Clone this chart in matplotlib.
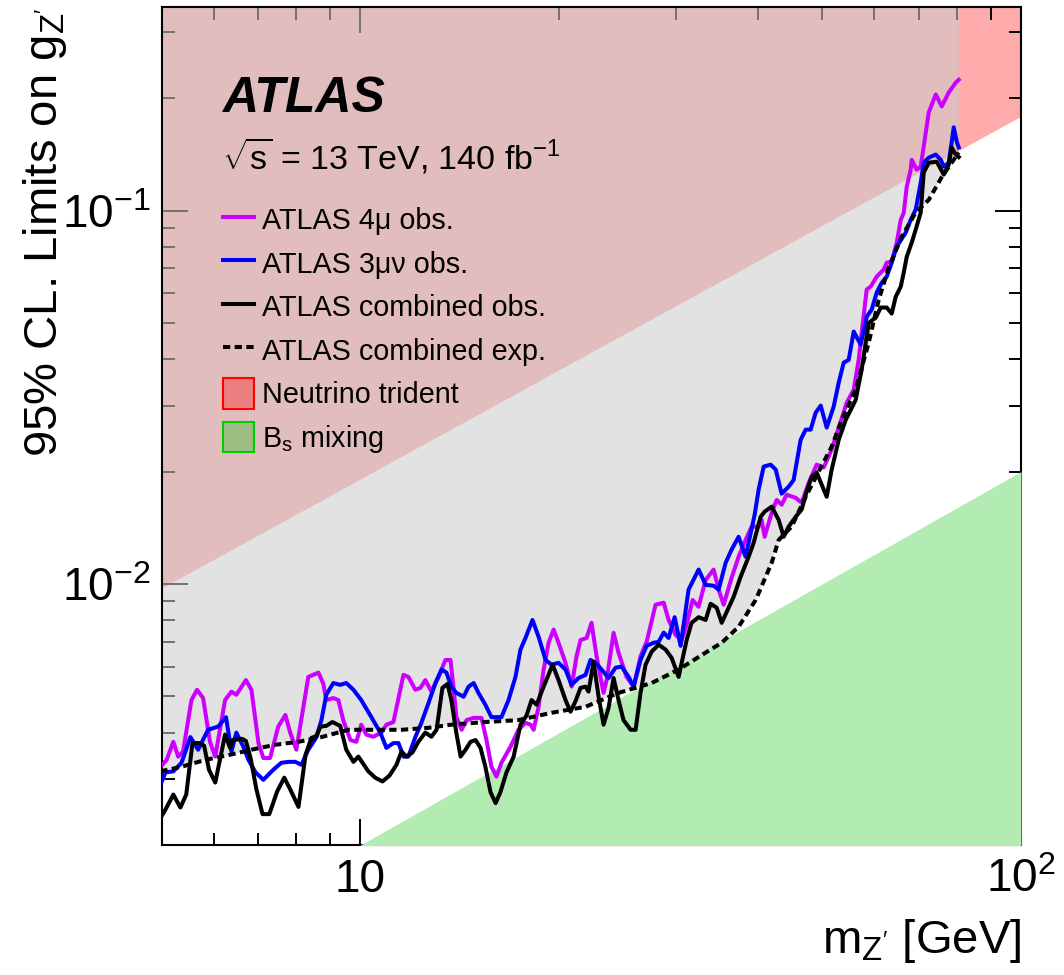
import matplotlib
matplotlib.use("Agg")
import matplotlib.pyplot as plt
from matplotlib.lines import Line2D
from matplotlib.patches import Patch
from matplotlib.ticker import LogLocator, NullFormatter

plt.rcParams["font.family"] = ["Liberation Sans", "DejaVu Sans"]
plt.rcParams["mathtext.fontset"] = "custom"
plt.rcParams["mathtext.rm"] = "Liberation Sans"
plt.rcParams["mathtext.it"] = "Liberation Sans:italic"
plt.rcParams["mathtext.bf"] = "Liberation Sans:bold"
plt.rcParams["mathtext.default"] = "regular"

# ATLAS 4mu observed limit
m_4mu = [4.98, 5.09, 5.21, 5.30, 5.39, 5.55, 5.66, 5.78, 5.92, 6.03, 6.24, 6.38, 6.49, 6.71,
         6.84, 7.01, 7.13, 7.30, 7.51, 7.70, 7.83, 8.00, 8.20, 8.34, 8.64, 8.79, 8.88, 9.10,
         9.26, 9.42, 9.66, 9.86, 10.03, 10.21, 10.46, 10.76, 10.95, 11.22, 11.42, 11.62,
         11.82, 12.11, 12.33, 12.54, 12.81, 13.13, 13.45, 13.69, 13.83, 13.97, 14.23, 14.48,
         14.84, 15.25, 15.52, 15.79, 16.07, 16.35, 16.88, 17.35, 17.78, 18.10, 18.29, 18.61,
         18.94, 19.27, 19.61, 19.95, 20.44, 20.88, 21.24, 21.54, 22.0, 22.38, 22.78, 23.34,
         23.59, 24.17, 24.59, 25.29, 25.92, 26.55, 27.12, 27.98, 28.78, 29.28, 30.0, 30.64,
         31.18, 31.83, 32.51, 33.31, 34.25, 34.86, 35.47, 36.47, 37.37, 38.29, 39.11, 40.07,
         40.49, 40.92, 41.94, 42.67, 43.42, 44.19, 45.59, 46.55, 47.71, 49.06, 50.27, 51.69,
         52.97, 54.47, 55.82, 56.79, 57.39, 58.40, 59.22, 60.47, 61.97, 62.62, 63.72, 64.84,
         65.76, 66.45, 67.15, 68.08, 68.32, 69.52, 70.5, 71.24, 72.50, 74.29, 75.86, 77.73,
         79.65, 80.49]
g_4mu = [0.00324, 0.00338, 0.00378, 0.00345, 0.00356, 0.00489, 0.00521, 0.00495, 0.00378,
         0.00345, 0.00489, 0.00515, 0.00505, 0.00553, 0.00521, 0.00375, 0.00342, 0.00342,
         0.00415, 0.00446, 0.0040, 0.0036, 0.00469, 0.00564, 0.00579, 0.0054, 0.00489,
         0.00495, 0.00489, 0.00432, 0.00382, 0.00378, 0.0042, 0.00395, 0.0039, 0.0040,
         0.0042, 0.00427, 0.00495, 0.00571, 0.00564, 0.00521, 0.00527, 0.00553, 0.00515,
         0.00564, 0.00626, 0.00626, 0.00531, 0.00441, 0.00407, 0.00432, 0.00438, 0.00438,
         0.00382, 0.00324, 0.00305, 0.00332, 0.00367, 0.00407, 0.00425, 0.0042, 0.00407,
         0.00469, 0.0059, 0.00696, 0.00755, 0.00696, 0.00615, 0.00531, 0.0064, 0.00708,
         0.00717, 0.00787, 0.0064, 0.00511, 0.00553, 0.0074, 0.00655, 0.00564, 0.00531,
         0.0064, 0.0070, 0.0088, 0.00891, 0.00801, 0.0073, 0.00708, 0.00778, 0.00906,
         0.00869, 0.01025, 0.01093, 0.00966, 0.0088, 0.01039, 0.01183, 0.01312, 0.01424,
         0.01424, 0.01484, 0.01338, 0.01552, 0.01679, 0.0163, 0.01734, 0.01701, 0.0165,
         0.01866, 0.02087, 0.0205, 0.0229, 0.0262, 0.03057, 0.03315, 0.03982, 0.04711,
         0.06143, 0.06257, 0.0665, 0.0695, 0.0725, 0.0729, 0.082, 0.0944, 0.0987, 0.1159,
         0.1287, 0.1367, 0.1287, 0.1311, 0.1484, 0.183, 0.2045, 0.190, 0.2071, 0.220, 0.2239]

# ATLAS 3mu nu observed limit
m_3munu = [4.98, 5.07, 5.21, 5.36, 5.53, 5.68, 5.88, 6.09, 6.26, 6.38, 6.49, 6.65, 6.77, 6.94,
           7.13, 7.38, 7.59, 7.78, 7.97, 8.14, 8.34, 8.58, 8.73, 8.88, 9.10, 9.32, 9.52, 9.76,
           10.03, 10.39, 10.72, 10.95, 11.22, 11.42, 11.62, 11.82, 12.11, 12.37, 12.68, 12.99,
           13.27, 13.50, 13.73, 13.97, 14.33, 14.58, 14.84, 15.09, 15.46, 15.79, 16.35, 16.76,
           17.17, 17.47, 17.78, 18.22, 18.61, 19.07, 19.47, 19.95, 20.44, 20.88, 21.39, 21.92,
           22.3, 22.70, 23.18, 23.75, 24.34, 24.85, 25.47, 25.92, 26.55, 27.12, 27.79, 28.28,
           28.78, 29.28, 29.90, 30.53, 31.39, 32.51, 33.31, 34.25, 34.86, 35.72, 36.47, 37.37,
           38.29, 39.52, 40.07, 40.78, 41.79, 42.53, 43.42, 44.49, 45.27, 46.39, 47.21, 48.04,
           48.89, 49.75, 50.80, 52.05, 52.97, 53.90, 54.85, 55.82, 57.19, 58.40, 59.43, 60.47,
           61.54, 62.62, 63.72, 64.84, 66.91, 68.08, 69.28, 70.50, 71.24, 72.50, 74.29, 75.6,
           76.39, 77.73, 79.10, 79.93, 80.49]
g_3munu = [0.0029, 0.00313, 0.00315, 0.00332, 0.00389, 0.0036, 0.00407, 0.00415, 0.0044,
           0.00356, 0.0040, 0.00367, 0.00338, 0.00313, 0.00299, 0.00318, 0.00332, 0.00334,
           0.00334, 0.00328, 0.0036, 0.00389, 0.00432, 0.00505, 0.00543, 0.00537, 0.00543,
           0.00521, 0.00489, 0.0044, 0.0040, 0.00364, 0.00375, 0.00375, 0.00345, 0.00345,
           0.00389, 0.00425, 0.0048, 0.00543, 0.0059, 0.00579, 0.00531, 0.00511, 0.00499,
           0.00531, 0.00543, 0.00511, 0.00475, 0.0044, 0.0044, 0.00489, 0.00564, 0.00667,
           0.00717, 0.00801, 0.00722, 0.00626, 0.00608, 0.00615, 0.0059, 0.00537, 0.0056,
           0.00571, 0.00626, 0.00615, 0.0059, 0.0056, 0.00597, 0.00601, 0.00564, 0.00531,
           0.00626, 0.00683, 0.00696, 0.0070, 0.00741, 0.00717, 0.00815, 0.00683, 0.00966,
           0.01093, 0.00995, 0.00989, 0.00966, 0.0114, 0.01236, 0.01338, 0.01183, 0.01533,
           0.01789, 0.02062, 0.02087, 0.02024, 0.01745, 0.01822, 0.01899, 0.02431, 0.0259,
           0.0259, 0.02877, 0.03003, 0.02622, 0.02985, 0.03458, 0.03913, 0.03982, 0.04741,
           0.04374, 0.05196, 0.0543, 0.06029, 0.06408, 0.0665, 0.0725, 0.08007, 0.08728,
           0.0944, 0.1006, 0.1187, 0.1343, 0.1385, 0.1412, 0.1367, 0.1311, 0.1343, 0.167,
           0.1529, 0.1475]

# ATLAS combined observed limit
m_comb = [4.98, 5.07, 5.21, 5.34, 5.45, 5.57, 5.70, 5.80, 5.90, 6.03, 6.24, 6.35, 6.40, 6.62,
          6.71, 6.82, 6.96, 7.11, 7.28, 7.48, 7.67, 7.83, 8.06, 8.26, 8.43, 8.58, 8.70, 8.88,
          9.07, 9.32, 9.52, 9.76, 9.93, 10.28, 10.53, 10.80, 11.07, 11.34, 11.54, 11.74, 11.99,
          12.24, 12.54, 12.81, 13.04, 13.31, 13.55, 13.73, 13.97, 14.18, 14.43, 14.68, 14.94,
          15.20, 15.46, 15.74, 16.02, 16.29, 16.64, 17.06, 17.47, 17.84, 18.16, 18.48, 18.94,
          19.54, 19.95, 20.44, 20.80, 21.17, 21.54, 21.92, 22.15, 22.54, 22.94, 23.34, 23.75,
          24.17, 24.59, 25.02, 25.65, 26.10, 26.55, 27.02, 27.60, 28.28, 28.98, 29.59, 30.32,
          31.18, 31.72, 32.51, 33.31, 33.90, 34.62, 35.23, 36.73, 37.63, 38.70, 39.38, 40.35,
          40.92, 41.94, 42.97, 43.73, 44.49, 45.59, 46.55, 47.37, 48.21, 49.06, 50.80, 51.69,
          52.97, 54.28, 56.20, 57.39, 58.81, 60.26, 61.33, 62.62, 63.72, 64.62, 65.76, 66.45,
          67.15, 68.32, 69.28, 70.50, 71.24, 72.50, 74.55, 76.39, 77.73, 78.55, 79.65, 80.49]
g_comb = [0.00236, 0.00249, 0.00273, 0.00252, 0.00273, 0.00375, 0.00375, 0.00369, 0.00318,
          0.00294, 0.00395, 0.00364, 0.00382, 0.00385, 0.0038, 0.00342, 0.00282, 0.00242,
          0.00242, 0.00278, 0.00303, 0.00282, 0.00253, 0.00349, 0.00387, 0.00392, 0.00415,
          0.00417, 0.00427, 0.00417, 0.0036, 0.00334, 0.00345, 0.00315, 0.00303, 0.00296,
          0.00307, 0.00328, 0.00356, 0.00345, 0.00354, 0.00378, 0.0040, 0.0039, 0.00407,
          0.00527, 0.0054, 0.00489, 0.0040, 0.00345, 0.0036, 0.00378, 0.00382, 0.00364,
          0.00324, 0.00277, 0.00259, 0.00277, 0.00313, 0.00345, 0.0042, 0.00444, 0.00489,
          0.00475, 0.00531, 0.00608, 0.00553, 0.00489, 0.00455, 0.00486, 0.00527, 0.00531,
          0.00515, 0.00619, 0.00499, 0.0042, 0.00466, 0.0056, 0.00489, 0.00432, 0.00407,
          0.00407, 0.00511, 0.00608, 0.00659, 0.00688, 0.00667, 0.00634, 0.00564, 0.00708,
          0.00787, 0.00815, 0.00801, 0.00885, 0.00864, 0.00787, 0.00924, 0.01045, 0.01183,
          0.01289, 0.01513, 0.01562, 0.01611, 0.01484, 0.01338, 0.01424, 0.01513, 0.01582,
          0.01767, 0.01937, 0.01987, 0.01712, 0.02024, 0.02431, 0.0275, 0.03111, 0.03751,
          0.0500, 0.05163, 0.05498, 0.05498, 0.05298, 0.05878, 0.06257, 0.06822, 0.07523,
          0.08201, 0.08894, 0.09877, 0.1263, 0.1343, 0.1351, 0.1248, 0.1327, 0.1475, 0.1412,
          0.139]

# ATLAS combined expected limit
m_exp = [4.98, 5.36, 5.82, 6.31, 6.84, 7.43, 8.06, 8.73, 9.59, 10.53, 11.54, 12.68, 13.73,
         15.46, 17.35, 19.47, 21.92, 24.59, 27.60, 30.32, 33.31, 35.23, 37.37, 39.66, 41.94,
         42.97, 44.96, 47.21, 49.40, 51.69, 53.53, 56.20, 58.81, 60.90, 63.06, 65.99, 69.28,
         72.50, 75.86, 80.49]
g_exp = [0.00315, 0.00324, 0.00338, 0.00348, 0.0036, 0.00371, 0.00378, 0.00389, 0.00407,
         0.00407, 0.00407, 0.00412, 0.0042, 0.00427, 0.00432, 0.00452, 0.00469, 0.00511,
         0.00543, 0.0059, 0.00655, 0.00696, 0.00768, 0.00906, 0.0114, 0.01312, 0.01424,
         0.01712, 0.01999, 0.02332, 0.0275, 0.03315, 0.04426, 0.05764, 0.07039, 0.08514,
         0.09877, 0.1068, 0.1229, 0.1430]

# excluded regions
trident_m = [5.0, 100.0]
trident_g = [0.0097, 0.178]
bs_m = [10.0, 100.0]
bs_g = [0.002, 0.02]

fig = plt.figure(figsize=(10.64, 9.75), dpi=100)
ax = fig.add_axes([0.1518, 0.1333, 0.8078, 0.8592])
ax.set_xscale("log")
ax.set_yscale("log")

ax.fill_between(trident_m, trident_g, 10, color=(1, 0, 0), alpha=0.33, lw=0, zorder=1)
ax.fill_between(m_exp, g_exp, 10, color=(0.8, 0.8, 0.8), alpha=0.56, lw=0, zorder=2)
ax.fill_between(bs_m, 1e-4, bs_g, color="#b2ecb2", lw=0, zorder=3)

lw = 2.9
dots = (0, (1.8, 1.1))
ax.plot(m_4mu, g_4mu, color="#cc00ff", lw=lw, zorder=5)
ax.plot(m_3munu, g_3munu, color="#0000ff", lw=lw, zorder=6)
ax.plot(m_exp, g_exp, color="black", lw=lw, ls=dots, zorder=7)
ax.plot(m_comb, g_comb, color="black", lw=lw, zorder=8)

ax.set_xlim(5, 100)
ax.set_ylim(0.002, 0.35)

ax.set_xticks([10, 100], ["10", "$10^{2}$"])
ax.xaxis.set_minor_locator(LogLocator(base=10, subs=range(2, 10)))
ax.xaxis.set_minor_formatter(NullFormatter())
ax.set_yticks([0.01, 0.1], ["$10^{-2}$", "$10^{-1}$"])
ax.yaxis.set_minor_locator(LogLocator(base=10, subs=range(2, 10)))
ax.yaxis.set_minor_formatter(NullFormatter())

ax.tick_params(which="both", direction="in", top=True, right=True, width=1.4)
ax.tick_params(which="major", length=18.5, labelsize=33)
ax.tick_params(which="minor", length=9)
ax.tick_params(axis="x", pad=34)
ax.tick_params(axis="y", pad=8)
for lab in ax.get_xticklabels():
    lab.set_va("baseline")
for sp in ax.spines.values():
    sp.set_linewidth(1.5)

ax.set_xlabel("m$_{Z'}$ [GeV]", fontsize=34, loc="right")
ax.xaxis.set_label_coords(1.0, -0.086)
ax.set_ylabel("95% CL. Limits on g$_{Z'}$", fontsize=34, loc="top")
ax.yaxis.set_label_coords(-0.108, 1.0)

ax.text(0.0705, 0.875, "ATLAS", transform=ax.transAxes, fontsize=36,
        fontweight="bold", fontstyle="italic", va="baseline")
ax.text(0.0705, 0.806, r"$\sqrt{s}$ = 13 TeV, 140 fb$^{-1}$", transform=ax.transAxes,
        fontsize=24.5, va="baseline")

handles = [
    Line2D([], [], color="#cc00ff", lw=lw),
    Line2D([], [], color="#0000ff", lw=lw),
    Line2D([], [], color="black", lw=lw),
    Line2D([], [], color="black", lw=lw, ls=dots),
    Patch(facecolor=(1, 0, 0, 0.33), edgecolor="red", lw=1.5),
    Patch(facecolor=(0, 0.75, 0, 0.3), edgecolor=(0, 0.8, 0), lw=1.5),
]
labels = ["ATLAS 4\u03bc obs.", "ATLAS 3\u03bc\u03bd obs.", "ATLAS combined obs.",
          "ATLAS combined exp.", "Neutrino trident", "B$_{s}$ mixing"]
ax.legend(handles, labels, loc="upper left", bbox_to_anchor=(0.0716, 0.7645),
          frameon=False, fontsize=20.7, handlelength=1.09, handletextpad=0.28,
          labelspacing=0.44, borderpad=0, borderaxespad=0, handleheight=1.244)

fig.savefig("out.png", dpi=100)
